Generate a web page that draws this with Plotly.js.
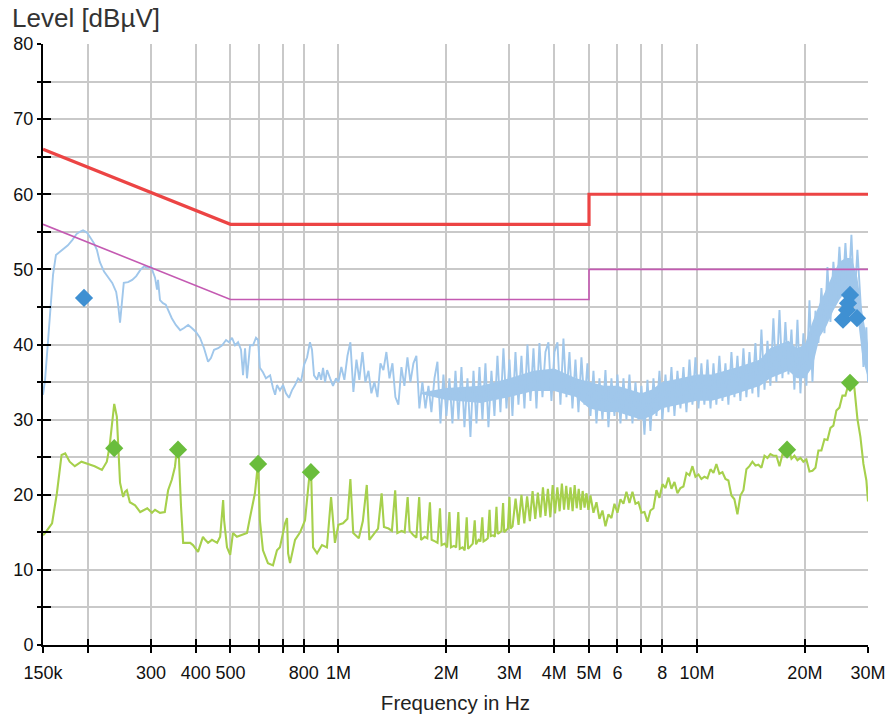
<!DOCTYPE html>
<html><head><meta charset="utf-8">
<script src="https://cdn.plot.ly/plotly-3.0.1.min.js"></script>
<style>html,body{margin:0;padding:0;background:#fff}#chart{width:892px;height:714px}</style>
</head><body><div id="chart"></div>
<script>
// ---- limit lines (frequency in MHz, level in dBµV) ----
const qpLimitF = [0.15, 0.5, 5, 5, 30];
const qpLimitLv = [66, 56, 56, 60, 60];
const avLimitF = [0.15, 0.5, 5, 5, 30];
const avLimitLv = [56, 46, 46, 50, 50];

// ---- peak (light blue) measurement, 150 kHz - 1 MHz ----
const peakLowF = [0.150,0.152,0.155,0.157,0.160,0.163,0.167,0.173,0.176,0.181,0.186,0.190,0.194,0.199,0.203,0.208,0.212,0.216,0.222,0.228,0.234,0.240,0.243,0.246,0.249,0.252,0.259,0.266,0.273,0.280,0.287,0.294,0.300,0.308,0.312,0.314,0.318,0.324,0.330,0.335,0.343,0.352,0.362,0.371,0.381,0.390,0.400,0.411,0.422,0.433,0.441,0.450,0.462,0.474,0.486,0.495,0.505,0.515,0.525,0.535,0.542,0.549,0.556,0.567,0.578,0.589,0.597,0.604,0.616,0.628,0.645,0.657,0.666,0.674,0.687,0.701,0.714,0.728,0.742,0.757,0.772,0.787,0.802,0.818,0.833,0.844,0.855,0.872,0.883,0.895,0.906,0.918,0.930,0.948,0.966,0.985];
const peakLowLv = [33.3,35.3,40.6,44.6,49.3,51.9,52.3,52.8,53.2,53.9,54.7,55.0,55.2,54.9,54.3,53.5,52.6,51.0,49.7,48.9,48.2,47.0,45.3,42.9,45.3,48.2,48.3,48.6,49.1,49.9,50.4,50.2,50.4,48.9,47.3,48.6,45.9,45.5,45.3,44.6,43.5,42.6,41.9,42.2,42.6,42.2,41.7,40.9,39.5,37.7,38.2,39.3,39.5,39.9,40.6,40.3,40.9,39.9,40.3,39.3,35.9,39.5,35.5,39.9,39.9,40.9,40.6,36.9,36.3,35.5,35.9,34.2,33.3,34.6,33.9,34.6,33.5,32.9,33.9,34.6,35.5,35.1,37.3,38.3,40.3,39.3,35.9,35.3,36.3,35.3,36.9,35.0,36.6,35.5,34.5,35.5];

// ---- sweep frequencies 1 MHz - 30 MHz ----
const sweepF = [1.000,1.019,1.039,1.060,1.080,1.101,1.123,1.144,1.167,1.189,
1.213,1.236,1.260,1.285,1.310,1.335,1.361,1.388,1.415,1.442,
1.470,1.499,1.528,1.558,1.588,1.619,1.650,1.682,1.715,1.749,
1.783,1.817,1.853,1.889,1.926,1.963,2.001,2.040,2.080,2.121,
2.162,2.204,2.247,2.291,2.335,2.381,2.427,2.474,2.522,2.571,
2.621,2.672,2.724,2.777,2.831,2.886,2.943,3.000,3.058,3.118,
3.178,3.240,3.303,3.367,3.433,3.500,3.568,3.637,3.708,3.780,
3.853,3.928,4.005,4.083,4.162,4.243,4.326,4.410,4.496,4.583,
4.672,4.763,4.856,4.950,5.047,5.145,5.245,5.347,5.451,5.557,
5.665,5.775,5.888,6.002,6.119,6.238,6.359,6.483,6.609,6.738,
6.869,7.002,7.139,7.278,7.419,7.563,7.711,7.861,8.014,8.170,
8.328,8.490,8.656,8.824,8.996,9.170,9.349,9.531,9.716,9.905,
10.10,10.29,10.49,10.70,10.91,11.12,11.33,11.55,11.78,12.01,
12.24,12.48,12.72,12.97,13.22,13.48,13.74,14.01,14.28,14.56,
14.84,15.13,15.43,15.73,16.03,16.34,16.66,16.99,17.32,17.65,
18.00,18.35,18.70,19.07,19.44,19.81,20.20,20.60,21.00,21.41,
21.82,22.24,22.68,23.12,23.57,24.02,24.49,24.97,25.46,25.95,
26.45,26.97,27.49,28.03,28.57,29.13,29.69,30.00];

const peakSweepLv = [35.0,37.0,35.3,38.5,40.3,33.7,38.0,35.3,39.0,35.0,
36.5,33.5,35.0,33.0,37.5,36.6,39.0,35.5,37.5,33.0,
32.0,37.0,34.5,38.3,35.0,37.5,38.5,31.5,35.0,31.5,
34.5,31.0,35.5,37.7,29.5,36.0,30.5,35.5,29.5,36.5,
30.0,37.0,29.0,35.5,27.7,36.5,29.5,37.0,30.0,37.5,
29.0,36.5,30.5,38.5,31.0,39.5,31.5,38.0,30.5,39.0,
32.0,38.5,31.5,40.0,32.5,39.5,31.5,40.2,33.0,39.0,
40.3,32.5,39.0,40.3,32.0,40.8,33.0,39.0,31.5,38.0,
31.0,38.3,32.0,37.5,30.5,36.5,29.5,35.5,30.0,36.6,
29.0,35.5,30.5,36.0,29.5,35.5,30.0,36.0,29.5,35.0,
30.0,34.5,28.0,35.3,28.5,35.5,30.5,36.5,30.0,36.0,
31.0,37.0,30.5,36.5,31.5,37.0,31.0,38.0,32.0,38.3,
31.5,37.5,32.0,38.0,31.5,37.5,32.0,38.5,32.5,37.5,
32.0,39.0,33.0,38.5,32.5,39.5,33.0,39.0,33.5,40.2,
33.0,42.0,34.0,40.5,34.5,43.5,35.0,44.6,35.5,43.0,
36.0,42.0,34.0,43.3,33.5,41.5,34.5,45.9,35.0,44.5,
40.2,47.5,41.5,50.3,43.0,51.0,46.0,53.0,46.5,53.5,
47.0,54.6,45.5,52.6,46.0,37.0,42.3,35.0];

// dense core of the peak sweep (where the trace fills solid)
const peakCoreF  = [1.7, 2.0, 2.5, 3.0, 3.5, 4.0, 4.6, 5.0, 5.5, 6.0, 7.0, 7.5, 8.0, 9.0, 10, 11, 12, 13, 14, 15, 16, 17, 18, 19, 20, 21, 22, 23, 24, 25, 26, 27, 28, 29, 30];
const peakCoreHi = [33.6,34.2,34.5,35.5,36.5,36.8,35.5,35.0,34.5,34.5,33.5,34.0,35.0,35.5,36.0,36.0,36.5,37.0,37.5,38.0,39.5,40.0,40.5,39.5,40.0,43.0,45.5,47.5,49.5,51.0,51.5,51.5,49.0,44.0,40.0];
const peakCoreLo = [33.4,32.6,32.2,33.0,33.8,33.8,33.0,31.5,31.0,31.0,30.0,30.5,31.5,32.0,32.5,32.5,33.0,33.5,34.0,34.5,35.5,36.0,36.5,35.5,35.5,37.0,41.0,42.5,44.5,46.0,47.0,46.0,44.0,38.0,35.5];

// ---- average (green) measurement ----
const avgLowF = [0.150,0.152,0.159,0.164,0.169,0.173,0.178,0.184,0.192,0.202,0.209,0.219,0.226,0.230,0.233,0.237,0.241,0.243,0.246,0.251,0.254,0.257,0.262,0.271,0.280,0.293,0.302,0.308,0.318,0.328,0.335,0.343,0.350,0.355,0.359,0.364,0.369,0.386,0.393,0.406,0.419,0.425,0.433,0.444,0.459,0.468,0.477,0.480,0.489,0.499,0.508,0.521,0.538,0.556,0.567,0.585,0.597,0.604,0.616,0.636,0.657,0.674,0.687,0.710,0.719,0.724,0.733,0.757,0.782,0.807,0.828,0.839,0.850,0.872,0.900,0.929,0.954,0.966,0.978];
const avgLowLv = [14.6,14.9,16.2,20.2,25.3,25.5,24.4,23.8,24.4,24.0,23.8,23.3,24.4,26.4,29.0,32.1,30.4,26.4,21.6,19.7,20.4,20.6,19.0,18.6,17.7,18.2,17.6,18.0,17.6,17.7,20.6,22.0,23.7,26.3,25.0,18.4,13.6,13.6,13.3,12.4,14.4,14.0,13.6,14.0,13.6,14.4,19.3,16.6,13.0,12.0,14.9,14.4,14.6,14.9,17.0,20.2,24.3,16.6,12.6,10.9,10.6,12.6,13.0,16.2,16.9,12.2,10.9,14.0,15.0,16.6,22.0,23.3,13.0,12.2,13.3,13.0,19.7,16.6,13.6];
const avgMidF = [1.00,1.03,1.06,1.08,1.10,1.14,1.17,1.20,1.22,1.26,1.29,1.32,1.34,1.38,1.41,1.44,1.46,1.50,1.53,1.56,1.58,1.62,1.65,1.68,1.70,1.74,1.77,1.80,1.82,1.86,1.89,1.92,1.94,1.98,2.01,2.04,2.06,2.10,2.13,2.16,2.18,2.22,2.25,2.28,2.30,2.34,2.37,2.40,2.42,2.46,2.49,2.52,2.54,2.58,2.61,2.64,2.66,2.70,2.73,2.76,2.78,2.82,2.85,2.88,2.90,2.94,2.97,3.00,3.02,3.06,3.12,3.18,3.24,3.30,3.36,3.42,3.48,3.54,3.60,3.66,3.72,3.78,3.84,3.90,3.96,4.02,4.08,4.14,4.20,4.26,4.32,4.38,4.44,4.50,4.56,4.62,4.68,4.74,4.80,4.86,4.92,4.98];
const avgMidLv = [16.0,16.2,16.8,22.1,14.9,14.2,16.5,21.3,14.0,14.9,15.5,20.2,15.7,15.5,15.2,20.6,14.9,15.2,15.0,19.7,15.2,14.6,14.3,19.7,14.0,14.4,14.2,19.0,14.0,13.8,13.6,18.2,13.3,13.5,13.0,17.7,13.0,13.2,13.0,17.7,12.8,13.0,12.6,17.0,12.8,13.2,13.5,16.6,13.4,14.0,13.8,17.0,13.8,14.0,14.2,18.0,14.5,14.6,14.4,18.4,14.8,15.0,15.2,18.9,15.0,15.3,15.5,19.7,15.5,15.8,19.5,16.0,20.0,16.2,19.8,16.5,20.5,16.8,20.3,17.0,21.0,17.2,20.8,17.0,21.3,17.5,21.0,17.8,21.5,18.0,21.2,18.0,21.0,17.8,21.3,18.2,20.8,18.0,20.5,18.3,20.2,18.0];
const avgHighLv = [19.9,17.6,19.0,16.8,17.9,15.8,17.4,16.9,18.8,17.6,
19.4,18.8,20.4,18.9,20.4,18.8,19.0,17.6,17.7,16.4,
17.9,18.2,20.6,19.6,21.4,20.9,22.3,20.8,21.7,20.2,
20.9,21.1,22.9,22.6,23.8,22.4,22.7,22.1,22.4,22.2,
23.4,22.9,24.1,22.8,23.0,22.1,21.9,19.9,19.4,17.4,
19.9,20.6,23.4,23.8,24.4,23.9,24.0,23.6,25.2,24.9,
25.4,25.2,25.2,23.8,25.4,25.2,26.2,24.8,25.2,24.6,
24.9,24.4,24.7,23.1,23.2,23.6,25.9,25.9,27.4,27.3,
28.9,29.2,31.2,31.6,33.2,33.2,34.7,34.6,34.2,30.1,
27.7,24.1,21.9,19.1];
const avgHighF = sweepF.slice(84);

// ---- final measurement markers ----
const peakMarkF = [0.1952, 25.55, 26.22, 26.39, 26.73, 27.96];
const peakMarkLv = [46.2, 43.3, 44.6, 45.5, 46.6, 43.5];
const avgMarkF = [0.237, 0.357, 0.597, 0.838, 17.84, 26.73];
const avgMarkLv = [26.2, 26.0, 24.1, 23.0, 26.0, 34.9];

// ---- ticks ----
const xTickF = [0.15,0.2,0.3,0.4,0.5,0.6,0.7,0.8,1,2,3,4,5,6,7,8,10,20,30];
const xTickText = ['150k','','300','400','500','','','800','1M','2M','3M','4M','5M','6','','8','10M','20M','30M'];
const yTickVals = [0,5,10,15,20,25,30,35,40,45,50,55,60,65,70,75,80];
const yTickText = ['0','','10','','20','','30','','40','','50','','60','','70','','80'];

const toHz = a => a.map(f => f * 1e6);
const FONT = 'Liberation Sans, Arial, sans-serif';
const xRange = [Math.log10(0.15e6), Math.log10(30e6)];
const BLUE = '#a0c7eb';

const traces = [
  {type:'scatter', mode:'lines', x: toHz(peakCoreF.concat(peakCoreF.slice().reverse())),
   y: peakCoreHi.concat(peakCoreLo.slice().reverse()),
   fill:'toself', fillcolor: BLUE, line:{width:0, color: BLUE}, hoverinfo:'skip'},
  {type:'scatter', mode:'lines', x: toHz(peakLowF.concat(sweepF)), y: peakLowLv.concat(peakSweepLv),
   line:{color: BLUE, width:1.9}, hoverinfo:'skip'},
  {type:'scatter', mode:'lines', x: toHz(avgLowF.concat(avgMidF, avgHighF)), y: avgLowLv.concat(avgMidLv, avgHighLv),
   line:{color:'#a6d04c', width:2.1}, hoverinfo:'skip'},
  {type:'scatter', mode:'lines', x: toHz(qpLimitF), y: qpLimitLv, line:{color:'#ec4444', width:3.2}},
  {type:'scatter', mode:'lines', x: toHz(avLimitF), y: avLimitLv, line:{color:'#c45ab2', width:1.6}},
  {type:'scatter', mode:'markers', x: toHz(peakMarkF), y: peakMarkLv,
   marker:{symbol:'diamond', size:14, color:'#3f90d2', line:{width:0}}},
  {type:'scatter', mode:'markers', x: toHz(avgMarkF), y: avgMarkLv,
   marker:{symbol:'diamond', size:14, color:'#6abd3c', line:{width:0}}},
  {type:'scatter', mode:'lines', x: [], y: [], xaxis:'x2', yaxis:'y2', hoverinfo:'skip'}
];

const layout = {
  width: 892, height: 714,
  margin: {l:43, r:24, t:44, b:69, pad:0},
  paper_bgcolor:'#ffffff', plot_bgcolor:'#ffffff',
  showlegend:false,
  font:{family:FONT, size:18, color:'#111'},
  title:{text:'Level [dBµV]', font:{family:FONT, size:26, color:'#333'},
         x: 12/892, xanchor:'left', xref:'container', y: 1 - 18/714, yanchor:'middle', yref:'container'},
  xaxis:{type:'log', range:xRange, tickmode:'array', tickvals: toHz(xTickF), ticktext: xTickText,
         ticks:'outside', ticklen:6, tickwidth:2, tickcolor:'#000', tickangle:0, ticklabelstandoff:4,
         showline:true, linecolor:'#000', linewidth:2, zeroline:false,
         showgrid:true, gridcolor:'#c9c9c9', gridwidth:2,
         tickfont:{family:FONT, size:18, color:'#111'},
         title:{text:'Frequency in Hz', font:{family:FONT, size:20.5, color:'#222'}, standoff:15},
         automargin:false, fixedrange:true},
  yaxis:{range:[0,80], tickmode:'array', tickvals: yTickVals, ticktext: yTickText,
         ticks:'outside', ticklen:4, tickwidth:2, tickcolor:'#000',
         showline:true, linecolor:'#000', linewidth:2, zeroline:false,
         showgrid:true, gridcolor:'#c9c9c9', gridwidth:2,
         tickfont:{family:FONT, size:18, color:'#111'},
         automargin:false, fixedrange:true},
  xaxis2:{type:'log', range:xRange, overlaying:'x', anchor:'y2', side:'bottom',
          tickmode:'array', tickvals: toHz(xTickF), ticks:'inside', ticklen:6, tickwidth:2, tickcolor:'#000',
          showticklabels:false, showgrid:false, showline:false, zeroline:false, fixedrange:true},
  yaxis2:{range:[0,80], overlaying:'y', anchor:'x2', side:'left',
          tickmode:'array', tickvals: yTickVals, ticks:'inside', ticklen:8, tickwidth:2, tickcolor:'#000',
          showticklabels:false, showgrid:false, showline:false, zeroline:false, fixedrange:true}
};

Plotly.newPlot('chart', traces, layout, {staticPlot:true, displayModeBar:false});
</script>
</body></html>
